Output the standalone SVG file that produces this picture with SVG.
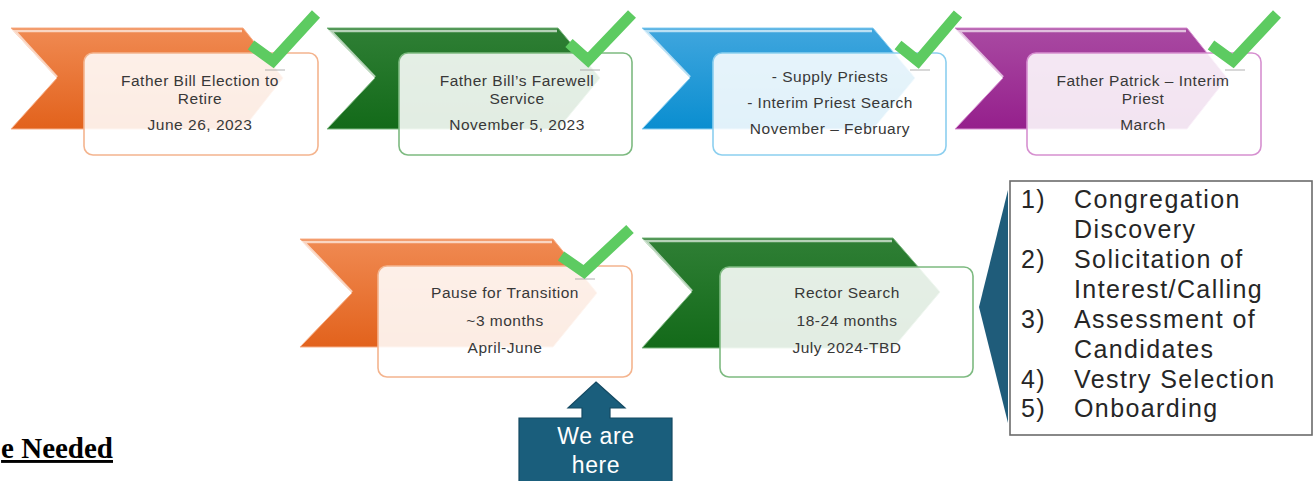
<svg xmlns="http://www.w3.org/2000/svg" width="1314" height="481" viewBox="0 0 1314 481">
<defs>
<linearGradient id="gO" x1="0" y1="0" x2="0" y2="1"><stop offset="0" stop-color="#F08A52"/><stop offset="1" stop-color="#E2621C"/></linearGradient>
<linearGradient id="gG" x1="0" y1="0" x2="0" y2="1"><stop offset="0" stop-color="#2F7F35"/><stop offset="1" stop-color="#136A19"/></linearGradient>
<linearGradient id="gB" x1="0" y1="0" x2="0" y2="1"><stop offset="0" stop-color="#40A6DE"/><stop offset="1" stop-color="#0A8ED0"/></linearGradient>
<linearGradient id="gP" x1="0" y1="0" x2="0" y2="1"><stop offset="0" stop-color="#A94AA2"/><stop offset="1" stop-color="#951F8C"/></linearGradient>
</defs>
<style>
.t{font-family:"Liberation Sans",Arial,sans-serif;font-size:15.5px;letter-spacing:0.5px;fill:#383838;text-anchor:middle}
.box{fill:#fff;fill-opacity:0.88;stroke-width:1.6}
.hl{fill:none;stroke:#fff;stroke-opacity:0.65;stroke-width:2.5}
.chk{fill:none;stroke:#5DCB61;stroke-width:11;stroke-linejoin:miter}
.sh{stroke:#9A9A9A;stroke-opacity:0.5;stroke-width:1.5}
.lst{font-family:"Liberation Sans",Arial,sans-serif;font-size:25px;letter-spacing:1.4px;fill:#262626}
.here{font-family:"Liberation Sans",Arial,sans-serif;font-size:23px;letter-spacing:0.6px;fill:#fff;text-anchor:middle}
</style>
<rect width="1314" height="481" fill="#fff"/>

<g id="n1">
<polygon points="11,28 243,28 283,78 243,129 11,129 57,78" fill="url(#gO)" stroke="#F7B08A" stroke-width="1"/>
<polyline class="hl" points="57,77 15,31 242,31"/>
<rect class="box" x="84" y="53" width="234" height="102" rx="9" stroke="#F4B48E"/>
<text class="t" x="200" y="86">Father Bill Election to</text>
<text class="t" x="200" y="104">Retire</text>
<text class="t" x="200" y="130">June 26, 2023</text>
<line class="sh" x1="265" y1="70" x2="285" y2="70"/>
<polyline class="chk" points="251,45 273,61 316,14"/>
</g>

<g id="n2">
<polygon points="327,28 558,28 600,78 558,129 327,129 375,78" fill="url(#gG)" stroke="#7DB880" stroke-width="1"/>
<polyline class="hl" points="375,77 331,31 557,31"/>
<rect class="box" x="399" y="53" width="233" height="102" rx="9" stroke="#7DBA80"/>
<text class="t" x="517" y="86">Father Bill’s Farewell</text>
<text class="t" x="517" y="104">Service</text>
<text class="t" x="517" y="130">November 5, 2023</text>
<line class="sh" x1="580" y1="70" x2="600" y2="70"/>
<polyline class="chk" points="569,43 588,60 632,14"/>
</g>

<g id="n3">
<polygon points="642,28 873,28 915,78 873,129 642,129 690,78" fill="url(#gB)" stroke="#8CD0F2" stroke-width="1"/>
<polyline class="hl" points="690,77 646,31 872,31"/>
<rect class="box" x="713" y="53" width="233" height="102" rx="9" stroke="#8CCFEF"/>
<text class="t" x="830" y="82">- Supply Priests</text>
<text class="t" x="830" y="108">- Interim Priest Search</text>
<text class="t" x="830" y="134">November – February</text>
<line class="sh" x1="910" y1="70" x2="930" y2="70"/>
<polyline class="chk" points="898,45 918,61 958,14"/>
</g>

<g id="n4">
<polygon points="955,28 1187,28 1227,78 1187,129 955,129 1003,78" fill="url(#gP)" stroke="#D892D2" stroke-width="1"/>
<polyline class="hl" points="1003,77 959,31 1186,31"/>
<rect class="box" x="1027" y="53" width="234" height="102" rx="9" stroke="#D690D0"/>
<text class="t" x="1143" y="86">Father Patrick – Interim</text>
<text class="t" x="1143" y="104">Priest</text>
<text class="t" x="1143" y="130">March</text>
<line class="sh" x1="1225" y1="70" x2="1245" y2="70"/>
<polyline class="chk" points="1211,45 1233,61 1277,14"/>
</g>

<g id="n5">
<polygon points="300,239 553,239 597,293 553,347 300,347 352,293" fill="url(#gO)" stroke="#F7B08A" stroke-width="1"/>
<polyline class="hl" points="352,292 304,242 552,242"/>
<rect class="box" x="378" y="266" width="254" height="111" rx="9" stroke="#F4B48E"/>
<text class="t" x="505" y="298">Pause for Transition</text>
<text class="t" x="505" y="326">~3 months</text>
<text class="t" x="505" y="353">April-June</text>
<line class="sh" x1="575" y1="279" x2="595" y2="279"/>
<polyline class="chk" points="561,256 584,272 630,229"/>
</g>

<g id="n6">
<polygon points="642,238 893,238 940,292 893,348 642,348 692,292" fill="url(#gG)" stroke="#7DB880" stroke-width="1"/>
<polyline class="hl" points="692,291 646,241 892,241"/>
<rect class="box" x="720" y="267" width="253" height="110" rx="9" stroke="#7DBA80"/>
<text class="t" x="847" y="298">Rector Search</text>
<text class="t" x="847" y="326">18-24 months</text>
<text class="t" x="847" y="353">July 2024-TBD</text>
</g>

<g id="n7">
<rect x="1010" y="181" width="302" height="254" fill="#fff" stroke="#6B6B6B" stroke-width="1.6"/>
<text class="lst" x="1021" y="208">1)</text><text class="lst" x="1074" y="208">Congregation</text>
<text class="lst" x="1074" y="238">Discovery</text>
<text class="lst" x="1021" y="268">2)</text><text class="lst" x="1074" y="268">Solicitation of</text>
<text class="lst" x="1074" y="298">Interest/Calling</text>
<text class="lst" x="1021" y="328">3)</text><text class="lst" x="1074" y="328">Assessment  of</text>
<text class="lst" x="1074" y="358">Candidates</text>
<text class="lst" x="1021" y="388">4)</text><text class="lst" x="1074" y="388">Vestry Selection</text>
<text class="lst" x="1021" y="417">5)</text><text class="lst" x="1074" y="417">Onboarding</text>
</g>

<g id="n8">
<polygon points="596,382 625,408 610,408 610,418 672,418 672,483 519,483 519,418 582,418 582,408 568,408" fill="#1A5E7C" stroke="#144A63" stroke-width="1.2"/>
<text class="here" x="596" y="444">We are</text>
<text class="here" x="596" y="473">here</text>
</g>

<g id="n9">
<text x="113" y="458" text-anchor="end" font-family="'Liberation Serif',serif" font-size="29" font-weight="bold" fill="#000" text-decoration="underline">e Needed</text>
</g>

<g id="connectors">
<path d="M1008,190 L979,307 L1008,423 Z" fill="#1F5C7A"/>
</g>
</svg>
